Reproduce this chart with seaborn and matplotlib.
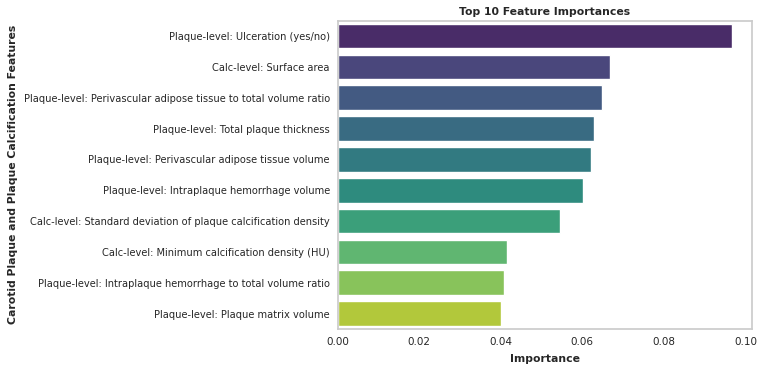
import pandas as pd
import seaborn as sns
import matplotlib.pyplot as plt

# feature importances, top 10
features = [
    'Plaque-level: Ulceration (yes/no)',
    'Calc-level: Surface area',
    'Plaque-level: Perivascular adipose tissue to total volume ratio',
    'Plaque-level: Total plaque thickness',
    'Plaque-level: Perivascular adipose tissue volume',
    'Plaque-level: Intraplaque hemorrhage volume',
    'Calc-level: Standard deviation of plaque calcification density',
    'Calc-level: Minimum calcification density (HU)',
    'Plaque-level: Intraplaque hemorrhage to total volume ratio',
    'Plaque-level: Plaque matrix volume',
]
importances = [0.0968, 0.0669, 0.0648, 0.0628, 0.0621,
               0.0602, 0.0545, 0.0416, 0.0407, 0.0400]

df = pd.DataFrame({'Feature': features, 'Importance': importances})

sns.set_theme(style='whitegrid')
plt.rcParams['font.family'] = ['DejaVu Sans']

fig, ax = plt.subplots(figsize=(7.62, 3.70), dpi=100)
sns.barplot(data=df, x='Importance', y='Feature', hue='Feature',
            palette='viridis', legend=False, ax=ax)

ax.set_title('Top 10 Feature Importances', fontsize=7.8, fontweight='bold', pad=4)
ax.set_xlabel('Importance', fontsize=7.8, fontweight='bold', labelpad=5)
ax.set_ylabel('Carotid Plaque and Plaque Calcification Features',
              fontsize=7.8, fontweight='bold', labelpad=4)
ax.tick_params(axis='both', length=0, pad=5.5)
ax.tick_params(axis='x', labelsize=7.5)
ax.tick_params(axis='y', labelsize=7.1)
ax.grid(False)

plt.subplots_adjust(left=0.443, right=0.987, top=0.944, bottom=0.111)
fig.savefig('out.png', dpi=100)
